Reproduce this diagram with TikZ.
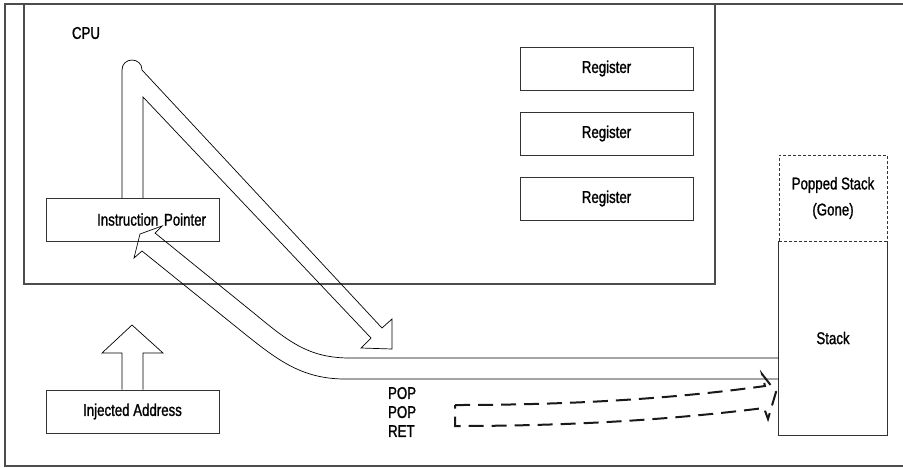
\documentclass[tikz,border=0pt]{standalone}
\usepackage{fontspec}
\setmainfont[FakeStretch=0.78,FakeBold=1.2]{Liberation Sans}
\begin{document}
\begin{tikzpicture}[
x=0.5pt,y=-0.5pt,
txt/.style={font=\fontsize{8.5}{10}\selectfont},
box/.style={
  draw=black!80,
  line width=0.5pt,
  txt,
  minimum width=86.5pt,
  minimum height=21.5pt,
  inner sep=0pt
  },
frameline/.style={draw=black!70,line width=0.7pt},
hollow/.style={draw=black,line width=0.35pt,line join=miter},
retpath/.style={draw=black!90,line width=1pt,dash pattern=on 7.5pt off 4pt}
]
\useasboundingbox (0,0) rectangle (903,467);
\draw[frameline] (903,4) -- (5,4) -- (5,466) -- (903,466);
\draw[frameline,line width=0.6pt] (24,4) -- (24,284) -- (715,284) -- (715,4);
\node[txt] (cpu) at (86,33) {CPU};
\foreach \Value/\Y in {1/68.5,2/133.5,3/198.5}
  \node[box] (r\Value) at (606.5,\Y) {Register};
\node[box,text width=73.5pt,align=right,inner xsep=6.5pt] (ip) at (132.5,219.5) {Instruction Pointer};
\node[box] (inj) at (132.5,411.5) {Injected Address};
\node[box,dash pattern=on 1.5pt off 1pt,minimum width=54pt,minimum height=43pt,
  align=center,font=\fontsize{8.5}{13}\selectfont] (popped) at (833,198) {Popped Stack\\(Gone)};
\node[box,draw=none,minimum width=54pt,minimum height=97pt] (stack) at (833,338) {Stack};
\draw[black!80,line width=0.5pt] (stack.north west) -- (stack.south west) -- (stack.south east) -- (stack.north east);
\node[txt,anchor=west,align=left,font=\fontsize{8.5}{9.5}\selectfont] (pops) at (381,412) {POP\\POP\\RET};
% block arrows
\draw[hollow] (122,198) -- (122,70) .. controls (122,56.7) and (142,56.7) .. (142,70)
  -- (382,328) -- (392,319) -- (392,349) -- (361,348) -- (371,338) -- (143,97) -- (143,198);
\draw[hollow] (stack.west |- 0,358) -- (350,358) .. controls (310,358) and (290,343) .. (255,314)
  -- (155,233) -- (162,226) -- (140,234) -- (134,258) -- (142,251)
  -- (240,330) .. controls (275,358) and (300,379) .. (345,379) -- (stack.west |- 0,379);
\draw[hollow] (inj.north -| 122,0) -- (122,353) -- (102,353) -- (132,325) -- (163,353) -- (143,353) -- (inj.north -| 143,0);
\draw[retpath] (455,405) .. controls (600,405) and (700,395) .. (765,386) -- (762,374) -- (776,392)
  -- (768,419) -- (764,408) .. controls (700,416) and (600,426) .. (455,426) -- cycle;
\end{tikzpicture}
\end{document}
